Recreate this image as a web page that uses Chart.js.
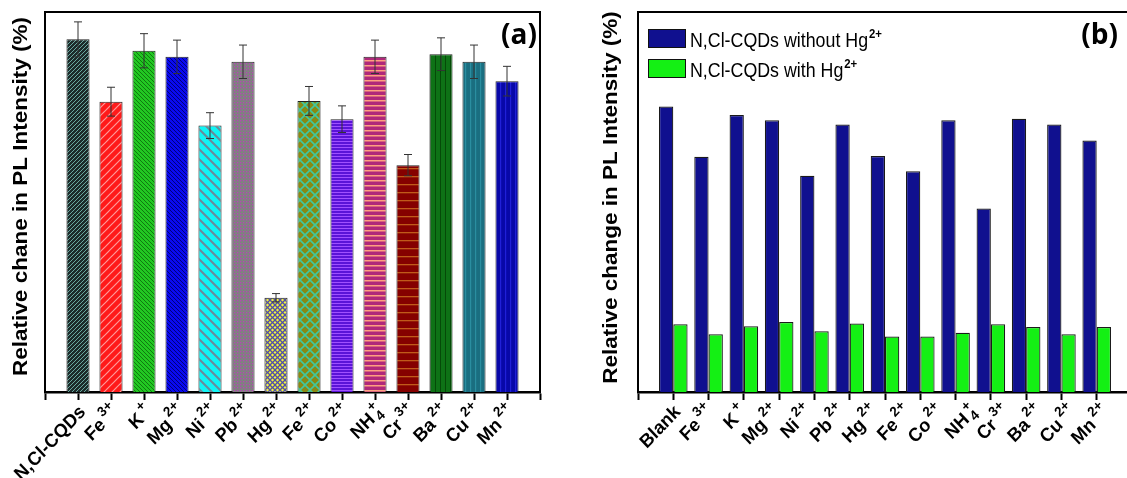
<!DOCTYPE html>
<html><head><meta charset="utf-8">
<script src="https://cdn.jsdelivr.net/npm/chart.js@4.4.1/dist/chart.umd.min.js"></script>
<style>
html,body{margin:0;padding:0;overflow:hidden;background:#fff;width:1127px;height:478px;}
#ca{position:absolute;left:0;top:0;}
#cb{position:absolute;left:590px;top:0;}
</style></head><body>
<canvas id="ca" width="545" height="478"></canvas>
<canvas id="cb" width="545" height="478"></canvas>
<script>
// ---------------- DATA ----------------
// Panel (a)
const categoriesA = ['N,Cl-CQDs','Fe^3+','K^+','Mg^2+','Ni^2+','Pb^2+','Hg^2+','Fe^2+','Co^2+','NH_4^+','Cr^3+','Ba^2+','Cu^2+','Mn^2+'];
const valuesA = [92.8, 76.4, 89.8, 88.2, 70.1, 86.9, 24.8, 76.6, 71.8, 88.2, 59.7, 88.9, 86.9, 81.8];
const errorsA = [4.6, 3.8, 4.5, 4.4, 3.4, 4.4, 1.1, 3.8, 3.5, 4.4, 2.8, 4.3, 4.4, 3.9];
const yTitleA = 'Relative chane in PL Intensity (%)';
// Panel (b)
const groupsB = ['Blank','Fe^3+','K^+','Mg^2+','Ni^2+','Pb^2+','Fe^2+','Co^2+','NH_4^+','Cr^3+','Ba^2+','Cu^2+','Mn^2+'];
const tickLabelsB = ['Blank','Fe^3+','K^+','Mg^2+','Ni^2+','Pb^2+','Hg^2+','Fe^2+','Co^2+','NH_4^+','Cr^3+','Ba^2+','Cu^2+','Mn^2+'];
const withoutHgB = [75.1, 61.9, 72.9, 71.5, 56.9, 70.4, 62.1, 58.1, 71.5, 48.3, 71.9, 70.4, 66.2];
const withHgB = [17.8, 15.2, 17.3, 18.4, 16.0, 18.0, 14.6, 14.6, 15.6, 17.8, 17.1, 15.2, 17.1];
const seriesNamesB = ['N,Cl-CQDs without Hg^2+', 'N,Cl-CQDs with Hg^2+'];
const yTitleB = 'Relative change in PL Intensity (%)';

// ---------------- STYLES ----------------
const FAM = "'Liberation Sans', Arial, sans-serif";
const fnt = (w, s, fam) => `${w} ${s}px ${fam || FAM}`;
const patternSpecsA = [
  {t:'fwd',  bg:'#1c2b2a', fg:'#6aa8a0', n:4, lw:1},
  {t:'fwd',  bg:'#ff1a1a', fg:'#ff9a9a', n:8, lw:1.2},
  {t:'back', bg:'#22c822', fg:'#0f7a0f', n:4, lw:1},
  {t:'back', bg:'#0a0af0', fg:'#00007a', n:4, lw:1},
  {t:'back', bg:'#10f5f5', fg:'#6a8a9a', n:10, lw:2},
  {t:'dot',  bg:'#808080', fg:'#b844b8', n:3, d:1.3},
  {t:'cross',bg:'#f5f53a', fg:'#5050a8', n:5, lw:1.3},
  {t:'cross',bg:'#8a8a12', fg:'#40c8a0', n:10, lw:1.6},
  {t:'horiz',bg:'#5a14d8', fg:'#a050ff', n:3, lw:1},
  {t:'horiz',bg:'#b0287a', fg:'#ffa080', n:5, lw:1.5},
  {t:'horiz',bg:'#850000', fg:'#c05a1a', n:8, lw:1.3},
  {t:'vert', bg:'#0e7216', fg:'#054a08', n:5, lw:1},
  {t:'vert', bg:'#1a6e80', fg:'#2a8ea0', n:5, lw:1.2},
  {t:'vert', bg:'#0808a8', fg:'#2020d8', n:5, lw:1.2}
];
function makePattern(s){
  const n = s.n, c = document.createElement('canvas');
  c.width = n; c.height = n;
  const g = c.getContext('2d');
  g.fillStyle = s.bg; g.fillRect(0,0,n,n);
  g.strokeStyle = s.fg; g.fillStyle = s.fg; g.lineWidth = s.lw || 1;
  const L = (a,b,c2,d) => { g.beginPath(); g.moveTo(a,b); g.lineTo(c2,d); g.stroke(); };
  const fwd = () => { L(-1,1,1,-1); L(0,n,n,0); L(n-1,n+1,n+1,n-1); };
  const back = () => { L(-1,n-1,1,n+1); L(0,0,n,n); L(n-1,-1,n+1,1); };
  if (s.t === 'fwd') fwd();
  else if (s.t === 'back') back();
  else if (s.t === 'cross') { fwd(); back(); }
  else if (s.t === 'horiz') g.fillRect(0,0,n,s.lw);
  else if (s.t === 'vert') g.fillRect(0,0,s.lw,n);
  else if (s.t === 'dot') g.fillRect(0,0,s.d,s.d);
  return g.createPattern(c,'repeat');
}

// ---------------- RICH TEXT ----------------
function parseRich(s){ const m = s.match(/^([^_^]*)(?:_([^^]*))?(?:\^(.*))?$/); return {base:m[1], sub:m[2]||'', sup:m[3]||''}; }
function drawRich(ctx, s, x, y, f, align){
  const p = parseRich(s);
  ctx.font = fnt(f.weight, f.size);
  const w = ctx.measureText(p.base).width;
  const ss = f.size * f.supScale;
  ctx.font = fnt(f.supWeight || f.weight, ss);
  const w2 = (p.sub || p.sup) ? Math.max(ctx.measureText(p.sub).width, ctx.measureText(p.sup).width) : 0;
  const total = w + (w2 ? w2 + f.gap : 0);
  const x0 = align === 'right' ? x - total : x;
  ctx.textAlign = 'left'; ctx.textBaseline = 'alphabetic';
  ctx.font = fnt(f.weight, f.size);
  ctx.fillText(p.base, x0, y);
  ctx.font = fnt(f.supWeight || f.weight, ss);
  const xs = x0 + w + f.gap;
  if (p.sup) ctx.fillText(p.sup, xs, y - f.size * f.supRise);
  if (p.sub) ctx.fillText(p.sub, xs, y + f.size * f.subDrop);
}
const tickFont = {weight:'bold', size:19, supScale:0.74, supRise:0.48, subDrop:0.22, gap:3};

function richTicks(labels, scaleId, dx, dy, sx){
  return { id:'richTicks', afterDraw(chart){
    const ctx = chart.ctx, sc = chart.scales[scaleId], xs = chart.scales.x;
    ctx.save(); ctx.fillStyle = '#000';
    labels.forEach((lab, i) => {
      const px = sc.getPixelForValue(i + 1);
      ctx.save();
      ctx.translate(px + dx, xs.top + dy);
      ctx.scale(sx, 1);
      ctx.rotate(-Math.PI / 4);
      drawRich(ctx, lab, 0, tickFont.size * 0.35, tickFont, 'right');
      ctx.restore();
    });
    ctx.restore();
  }};
}
function yTitle(text, baseOff, dyc){
  return { id:'yTitle', afterDraw(chart){
    const {ctx, chartArea:a} = chart;
    ctx.save();
    ctx.translate(a.left - baseOff, (a.top + a.bottom) / 2 + dyc);
    ctx.scale(0.9, 1);
    ctx.rotate(-Math.PI / 2);
    ctx.fillStyle = '#000'; ctx.font = fnt('bold', 22.5);
    ctx.textAlign = 'center'; ctx.textBaseline = 'alphabetic';
    ctx.fillText(text, 0, 0);
    ctx.restore();
  }};
}
function frame(tag, tagRight){
  return { id:'frame', afterDraw(chart){
    const {ctx, chartArea:a} = chart;
    ctx.save();
    ctx.strokeStyle = '#000'; ctx.lineWidth = 2;
    ctx.beginPath(); ctx.moveTo(a.left, a.top); ctx.lineTo(a.right, a.top); ctx.lineTo(a.right, a.bottom); ctx.stroke();
    ctx.fillStyle = '#000'; ctx.font = fnt('bold', 28, "'Open Sans', sans-serif");
    ctx.textAlign = 'right'; ctx.textBaseline = 'alphabetic';
    ctx.fillText(tag, a.right - tagRight, a.top + 32);
    ctx.restore();
  }};
}
const errorBars = { id:'errorBars', afterDatasetsDraw(chart){
  const ctx = chart.ctx, meta = chart.getDatasetMeta(0), y = chart.scales.y;
  ctx.save(); ctx.strokeStyle = '#333'; ctx.lineWidth = 1;
  valuesA.forEach((v, i) => {
    const el = meta.data[i + 1]; if (!el) return;
    const x = el.x, t = y.getPixelForValue(v + errorsA[i]), b = y.getPixelForValue(v - errorsA[i]);
    ctx.beginPath();
    ctx.moveTo(x, t); ctx.lineTo(x, b);
    ctx.moveTo(x - 4, t); ctx.lineTo(x + 4, t);
    ctx.moveTo(x - 4, b); ctx.lineTo(x + 4, b);
    ctx.stroke();
  });
  ctx.restore();
}};
const legendB = { id:'legendB', afterDraw(chart){
  const {ctx, chartArea:a} = chart;
  const lf = {weight:'normal', supWeight:'bold', size:20, supScale:0.64, supRise:0.45, subDrop:0.2, gap:1};
  ctx.save();
  chart.data.datasets.forEach((ds, i) => {
    const top = a.top + 17 + i * 30;
    ctx.fillStyle = ds.backgroundColor; ctx.fillRect(a.left + 10, top, 38, 19);
    ctx.strokeStyle = '#111'; ctx.lineWidth = 1; ctx.strokeRect(a.left + 10.5, top + 0.5, 37, 18);
    ctx.save();
    ctx.translate(a.left + 52, top + 18);
    ctx.scale(0.89, 1);
    ctx.fillStyle = '#000';
    drawRich(ctx, ds.label, 0, 0, lf, 'left');
    ctx.restore();
  });
  ctx.restore();
}};

// ---------------- CHARTS ----------------
const pad = arr => [null, ...arr, null];
const padLabels = arr => ['', ...arr, ''];

function baseScales(xHeight, yWidth){
  return {
    x: { type:'category', offset:false,
         grid:{display:true, drawOnChartArea:false, drawTicks:true, tickLength:8, tickWidth:2, tickColor:'#000', offset:false},
         border:{display:true, width:2.5, color:'#000'},
         ticks:{display:false},
         afterFit: s => { s.height = xHeight; } },
    y: { min:0, max:100,
         grid:{display:false},
         border:{display:true, width:2, color:'#000'},
         ticks:{display:false},
         afterFit: s => { s.width = yWidth; } }
  };
}

new Chart(document.getElementById('ca'), {
  type:'bar',
  data:{ labels: padLabels(categoriesA),
    datasets:[{ label:'PL', data: pad(valuesA),
      backgroundColor: pad(patternSpecsA.map(makePattern)),
      borderColor:'#222', borderWidth:1, barPercentage:0.7, categoryPercentage:1.0 }] },
  options:{ responsive:false, animation:false, devicePixelRatio:1,
    layout:{ padding:{left:0, right:5, top:12, bottom:0} },
    plugins:{ legend:{display:false}, tooltip:{enabled:false} },
    scales: baseScales(86, 45) },
  plugins:[errorBars, richTicks(categoriesA, 'x', 4, 16, 0.95), yTitle(yTitleA, 18, -5.5), frame('(a)', 3)]
});

const scalesB = baseScales(86, 48);
scalesB.xl = { type:'category', labels: padLabels(tickLabelsB), offset:false, display:false, position:'bottom' };
new Chart(document.getElementById('cb'), {
  type:'bar',
  data:{ labels: padLabels(groupsB),
    datasets:[
      { label: seriesNamesB[0], data: pad(withoutHgB), backgroundColor:'#10108f', borderColor:'#1a1a1a', borderWidth:1.2, barPercentage:1.0, categoryPercentage:0.81 },
      { label: seriesNamesB[1], data: pad(withHgB), backgroundColor:'#14f014', borderColor:'#1a1a1a', borderWidth:1.2, barPercentage:1.0, categoryPercentage:0.81 }
    ] },
  options:{ responsive:false, animation:false, devicePixelRatio:1,
    layout:{ padding:{left:0, right:3, top:12, bottom:0} },
    plugins:{ legend:{display:false}, tooltip:{enabled:false} },
    scales: scalesB },
  plugins:[richTicks(tickLabelsB, 'xl', 6, 16, 0.95), yTitle(yTitleB, 21, -4.5), frame('(b)', 14), legendB]
});
</script>
</body></html>
